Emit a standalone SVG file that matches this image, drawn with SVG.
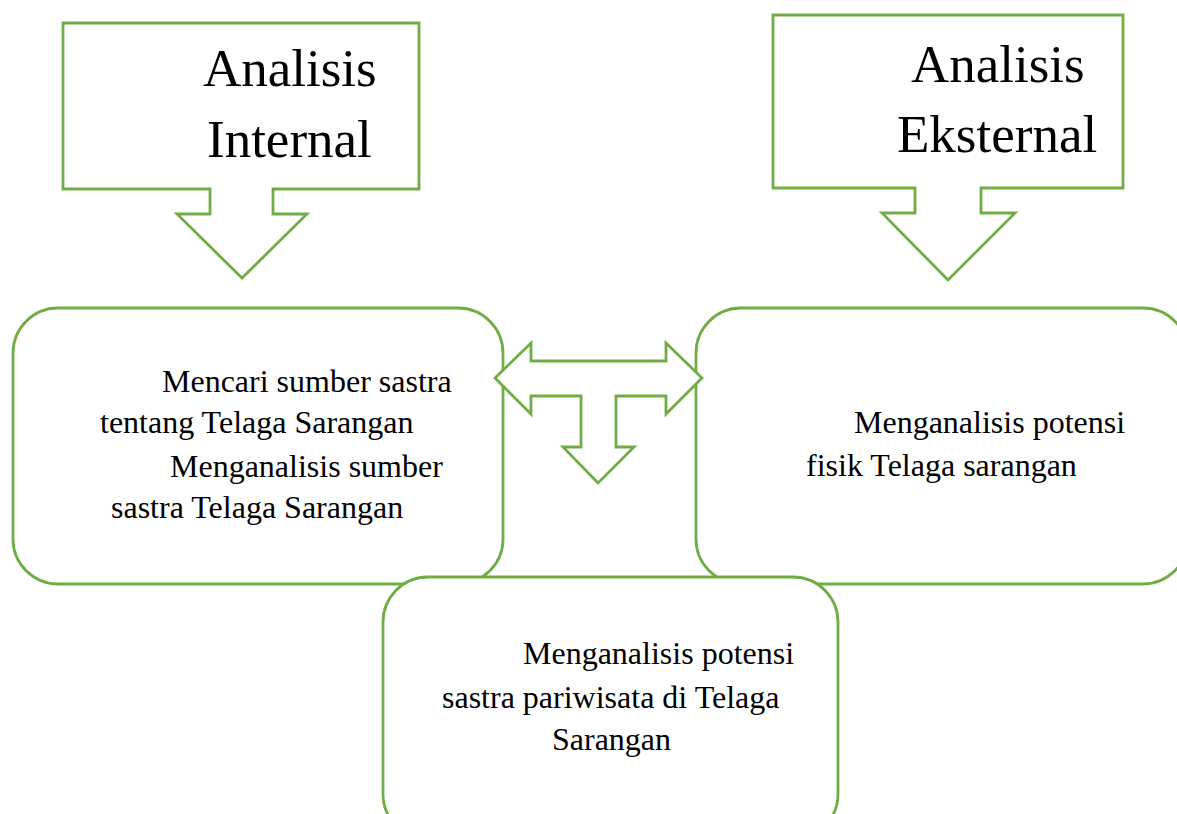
<svg xmlns="http://www.w3.org/2000/svg" width="1177" height="814" viewBox="0 0 1177 814">
<style>
.s{fill:#ffffff;stroke:#70AD47;stroke-width:2.8;stroke-linejoin:miter}
.h{font-family:"Liberation Serif","Times New Roman",serif;font-size:53px;fill:#000}
.t{font-family:"Liberation Serif","Times New Roman",serif;font-size:32px;fill:#000}
</style>
<rect width="1177" height="814" fill="#ffffff"/>
<g id="internal">
<path class="s" d="M63,23 H419 V189 H273 V214 H307 L242,278 L177,214 H210 V189 H63 Z"/>
<text class="h" x="203" y="86">Analisis</text>
<text class="h" x="207" y="157">Internal</text>
</g>
<g id="eksternal">
<path class="s" d="M773,15 H1123 V188 H981 V213 H1015 L948,280 L882,213 H915 V188 H773 Z"/>
<text class="h" x="911" y="82">Analisis</text>
<text class="h" x="897" y="152">Eksternal</text>
</g>
<g id="sumber">
<rect class="s" x="13" y="308" width="490" height="276" rx="45"/>
<text class="t" x="162" y="392">Mencari sumber sastra</text>
<text class="t" x="100" y="433">tentang Telaga Sarangan</text>
<text class="t" x="170" y="477">Menganalisis sumber</text>
<text class="t" x="111" y="518">sastra Telaga Sarangan</text>
</g>
<g id="fisik">
<rect class="s" x="696" y="308" width="492" height="276" rx="45"/>
<text class="t" x="854" y="433">Menganalisis potensi</text>
<text class="t" x="806" y="476">fisik Telaga sarangan</text>
</g>
<g id="connectors">
<path class="s" d="M495,378 L531,343 V361 H666 V343 L702,378 L666,414 V396 H616 V447 H634 L598,483 L563,447 H581 V396 H531 V414 Z"/>
</g>
<g id="pariwisata">
<rect class="s" x="383" y="577" width="455" height="262" rx="45"/>
<text class="t" x="523" y="664">Menganalisis potensi</text>
<text class="t" x="442" y="708">sastra pariwisata di Telaga</text>
<text class="t" x="552" y="750">Sarangan</text>
</g>
</svg>
